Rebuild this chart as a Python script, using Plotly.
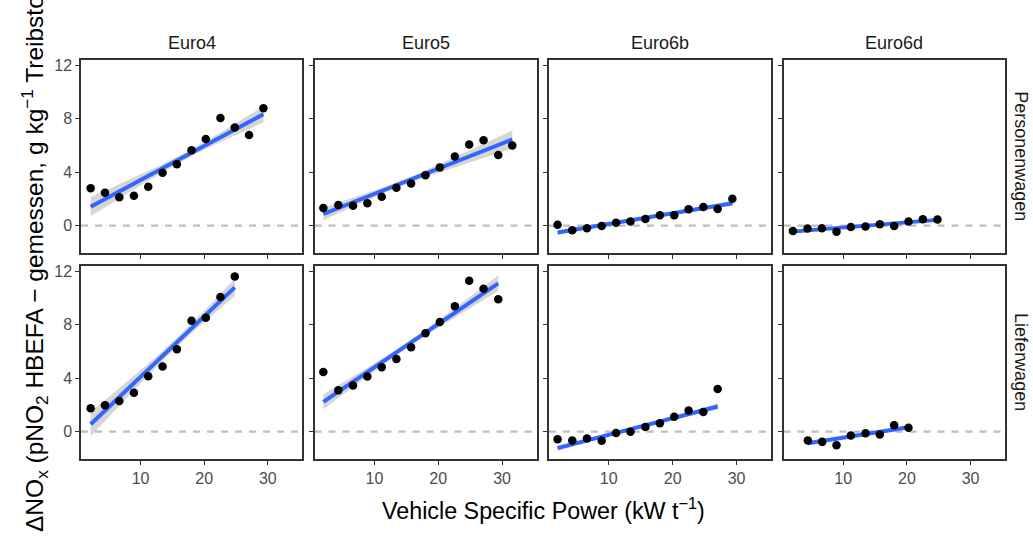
import numpy as np
import plotly.graph_objects as go

# ---------------- data ----------------
euro_classes = ["Euro4", "Euro5", "Euro6b", "Euro6d"]
vehicle_types = ["Personenwagen", "Lieferwagen"]

pw_euro4_vsp = [2.15, 4.4, 6.65, 8.95, 11.2, 13.45, 15.7, 18.0, 20.25, 22.55, 24.8, 27.05, 29.3]
pw_euro4_dnox = [2.79, 2.46, 2.12, 2.24, 2.91, 3.96, 4.6, 5.65, 6.49, 8.06, 7.34, 6.79, 8.78]

pw_euro5_vsp = [2.0, 4.35, 6.65, 8.9, 11.15, 13.45, 15.75, 18.0, 20.25, 22.6, 24.85, 27.1, 29.4, 31.6]
pw_euro5_dnox = [1.32, 1.54, 1.49, 1.67, 2.16, 2.84, 3.16, 3.78, 4.36, 5.18, 6.07, 6.4, 5.28, 6.0]

pw_euro6b_vsp = [2.0, 4.3, 6.6, 8.9, 11.15, 13.4, 15.75, 18.0, 20.25, 22.5, 24.8, 27.05, 29.35]
pw_euro6b_dnox = [0.07, -0.34, -0.2, -0.02, 0.22, 0.3, 0.5, 0.78, 0.78, 1.22, 1.4, 1.25, 2.01]

pw_euro6d_vsp = [2.1, 4.4, 6.65, 8.95, 11.2, 13.5, 15.75, 18.0, 20.25, 22.5, 24.8]
pw_euro6d_dnox = [-0.4, -0.22, -0.2, -0.45, -0.1, -0.07, 0.1, -0.02, 0.3, 0.48, 0.45]

lw_euro4_vsp = [2.15, 4.4, 6.65, 8.95, 11.2, 13.45, 15.7, 18.0, 20.25, 22.55, 24.8]
lw_euro4_dnox = [1.75, 1.97, 2.29, 2.91, 4.14, 4.86, 6.15, 8.29, 8.51, 10.06, 11.6]

lw_euro5_vsp = [2.0, 4.35, 6.65, 8.9, 11.15, 13.45, 15.75, 18.0, 20.25, 22.6, 24.85, 27.1, 29.4]
lw_euro5_dnox = [4.46, 3.09, 3.44, 4.11, 4.81, 5.43, 6.3, 7.35, 8.19, 9.36, 11.28, 10.68, 9.89]

lw_euro6b_vsp = [2.0, 4.3, 6.6, 8.9, 11.15, 13.4, 15.75, 18.0, 20.25, 22.5, 24.8, 27.05]
lw_euro6b_dnox = [-0.57, -0.67, -0.52, -0.69, -0.1, -0.02, 0.35, 0.63, 1.1, 1.57, 1.47, 3.19]

lw_euro6d_vsp = [4.45, 6.7, 8.95, 11.2, 13.5, 15.75, 18.0, 20.25]
lw_euro6d_dnox = [-0.67, -0.77, -1.02, -0.3, -0.12, -0.22, 0.48, 0.28]

# linear-smooth values (order: PW E4,E5,E6b,E6d, LW E4,E5,E6b,E6d)
smooth_y_start = [1.42, 0.87, -0.52, -0.45, 0.55, 2.22, -1.24, -0.87]
smooth_y_end = [8.34, 6.45, 1.67, 0.43, 10.78, 11.08, 1.87, 0.33]
ci_half_start = [0.72, 0.46, 0.16, 0.12, 0.90, 0.55, 0.20, 0.16]
ci_half_end = [0.60, 0.68, 0.18, 0.13, 0.65, 0.58, 0.22, 0.16]
ci_half_mid = [0.25, 0.20, 0.07, 0.05, 0.33, 0.20, 0.09, 0.07]

x_ticks = [10, 20, 30]
y_ticks = [0, 4, 8, 12]

panels = [
    (pw_euro4_vsp, pw_euro4_dnox), (pw_euro5_vsp, pw_euro5_dnox),
    (pw_euro6b_vsp, pw_euro6b_dnox), (pw_euro6d_vsp, pw_euro6d_dnox),
    (lw_euro4_vsp, lw_euro4_dnox), (lw_euro5_vsp, lw_euro5_dnox),
    (lw_euro6b_vsp, lw_euro6b_dnox), (lw_euro6d_vsp, lw_euro6d_dnox),
]


def smooth_band(i, x):
    xs, xe = min(x), max(x)
    xg = np.linspace(xs, xe, 80)
    yg = smooth_y_start[i] + (smooth_y_end[i] - smooth_y_start[i]) * (xg - xs) / (xe - xs)
    hs, he, m = ci_half_start[i], ci_half_end[i], ci_half_mid[i]
    ds = np.sqrt(max(hs ** 2 - m ** 2, 1e-9))
    de = np.sqrt(max(he ** 2 - m ** 2, 1e-9))
    xbar = (xs * de + xe * ds) / (ds + de)
    B = (ds / (xbar - xs)) ** 2
    half = np.sqrt(m ** 2 + B * (xg - xbar) ** 2)
    return xg, yg, yg - half, yg + half


# ---------------- layout geometry ----------------
x_domains = [[0.0, 0.2394], [0.2528, 0.4930], [0.5063, 0.7468], [0.7603, 1.0]]
y_domains = [[0.5163, 1.0], [0.0, 0.4845]]
x_range = [0.63, 35.4]
y_range = [-2.05, 12.4]

FONT = "Liberation Sans, Arial, Helvetica, sans-serif"
BORDER = "#333333"

fig = go.Figure()
layout = {}
shapes = []

for r in range(2):
    for c in range(4):
        i = r * 4 + c
        idx = i + 1
        xname = "x" if idx == 1 else f"x{idx}"
        yname = "y" if idx == 1 else f"y{idx}"
        xd, yd = panels[i]
        xg, yg, lo, hi = smooth_band(i, xd)

        fig.add_trace(go.Scatter(
            x=np.concatenate([xg, xg[::-1]]), y=np.concatenate([hi, lo[::-1]]),
            fill="toself", fillcolor="rgba(153,153,153,0.4)",
            line=dict(width=0), mode="lines", hoverinfo="skip",
            showlegend=False, xaxis=xname, yaxis=yname))
        fig.add_trace(go.Scatter(
            x=xg, y=yg, mode="lines", line=dict(color="#3366FF", width=4),
            showlegend=False, xaxis=xname, yaxis=yname))
        fig.add_trace(go.Scatter(
            x=xd, y=yd, mode="markers",
            marker=dict(color="black", size=8.5, line=dict(width=0)),
            showlegend=False, xaxis=xname, yaxis=yname))

        shapes.append(dict(
            type="line", xref=f"{xname} domain", yref=yname,
            x0=0, x1=1, y0=0, y1=0, layer="below",
            line=dict(color="#BEBEBE", width=2.2, dash="7px,7px")))

        common = dict(showgrid=False, zeroline=False, showline=True, mirror=True,
                      linecolor=BORDER, linewidth=1.5, ticks="outside",
                      ticklen=4, tickwidth=1.3, tickcolor=BORDER,
                      tickfont=dict(family=FONT, size=16, color="#4D4D4D"))
        xkey = "xaxis" if idx == 1 else f"xaxis{idx}"
        ykey = "yaxis" if idx == 1 else f"yaxis{idx}"
        layout[xkey] = dict(common, domain=x_domains[c], range=x_range,
                            tickvals=x_ticks, showticklabels=(r == 1),
                            anchor=yname)
        layout[ykey] = dict(common, domain=y_domains[r], range=y_range,
                            tickvals=y_ticks, showticklabels=(c == 0),
                            anchor=xname)

annotations = []
for c, name in enumerate(euro_classes):
    annotations.append(dict(
        text=name, xref="paper", yref="paper",
        x=(x_domains[c][0] + x_domains[c][1]) / 2, y=1.0426,
        xanchor="center", yanchor="middle", showarrow=False,
        font=dict(family=FONT, size=18, color="#1A1A1A")))
for r, name in enumerate(vehicle_types):
    annotations.append(dict(
        text=name, xref="paper", yref="paper",
        x=1.0165, y=(y_domains[r][0] + y_domains[r][1]) / 2,
        xanchor="center", yanchor="middle", showarrow=False, textangle=90,
        font=dict(family=FONT, size=18, color="#1A1A1A")))

annotations.append(dict(
    text="Vehicle Specific Power (kW t<sup>\u22121</sup>)",
    xref="paper", yref="paper", x=0.5, y=-0.125,
    xanchor="center", yanchor="middle", showarrow=False,
    font=dict(family=FONT, size=23.3, color="black")))
annotations.append(dict(
    text="\u0394NO<sub>x</sub> (pNO<sub>2</sub> HBEFA \u2212 gemessen, g kg<sup>\u22121</sup> Treibstoff)",
    xref="paper", yref="paper", x=-0.051, y=0.516,
    xanchor="center", yanchor="middle", showarrow=False, textangle=-90,
    font=dict(family=FONT, size=24.5, color="black")))

fig.update_layout(
    width=1033, height=536,
    margin=dict(l=81, r=28, t=60, b=77),
    paper_bgcolor="white", plot_bgcolor="white",
    shapes=shapes, annotations=annotations,
    **layout)

fig.write_html("out.html", config={"displayModeBar": False},
               post_script="document.body.style.margin='0';")
